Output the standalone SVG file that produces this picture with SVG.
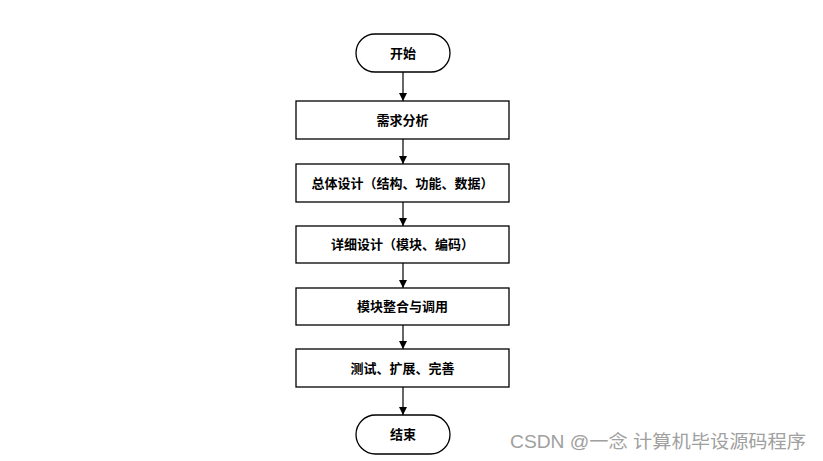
<svg xmlns="http://www.w3.org/2000/svg" width="823" height="461" viewBox="0 0 823 461">
<style>
.n{fill:#fff;stroke:#000;stroke-width:1.3}
.t{font-family:"Liberation Serif","Noto Sans CJK SC",serif;font-weight:bold;font-size:13px;fill:#000;text-anchor:middle;dominant-baseline:central}
.c{stroke:#000;stroke-width:1.2;fill:none}
.w{font-family:"Liberation Sans","Noto Sans CJK SC",sans-serif;font-size:18px;fill:#a0a0a0}
</style>
<defs>
<marker id="ah" markerWidth="8" markerHeight="8" refX="8" refY="4" orient="auto" markerUnits="userSpaceOnUse">
<path d="M0,0 L8,4 L0,8 Z" fill="#000"/>
</marker>
</defs>
<rect width="823" height="461" fill="#fff"/>
<g id="start"><rect class="n" x="356" y="34" width="94" height="38" rx="19"/><text class="t" x="403" y="53">开始</text></g>
<g id="n1"><rect class="n" x="296" y="101" width="213" height="38"/><text class="t" x="402.5" y="120">需求分析</text></g>
<g id="n2"><rect class="n" x="296" y="164" width="213" height="38"/><text class="t" x="402.5" y="183">总体设计（结构、功能、数据）</text></g>
<g id="n3"><rect class="n" x="296" y="226" width="213" height="37"/><text class="t" x="402.5" y="244.5">详细设计（模块、编码）</text></g>
<g id="n4"><rect class="n" x="296" y="288" width="213" height="37"/><text class="t" x="402.5" y="306.5">模块整合与调用</text></g>
<g id="n5"><rect class="n" x="296" y="349" width="213" height="38"/><text class="t" x="402.5" y="368">测试、扩展、完善</text></g>
<g id="end"><rect class="n" x="356" y="415" width="94" height="39" rx="19.5"/><text class="t" x="403" y="434.5">结束</text></g>
<g id="connectors">
<line class="c" x1="403" y1="72" x2="403" y2="101" marker-end="url(#ah)"/>
<line class="c" x1="403" y1="139" x2="403" y2="164" marker-end="url(#ah)"/>
<line class="c" x1="403" y1="202" x2="403" y2="226" marker-end="url(#ah)"/>
<line class="c" x1="403" y1="263" x2="403" y2="288" marker-end="url(#ah)"/>
<line class="c" x1="403" y1="325" x2="403" y2="349" marker-end="url(#ah)"/>
<line class="c" x1="403" y1="387" x2="403" y2="415" marker-end="url(#ah)"/>
</g>
<text class="w" x="510" y="448" textLength="296" lengthAdjust="spacingAndGlyphs">CSDN @一念 计算机毕设源码程序</text>
</svg>
